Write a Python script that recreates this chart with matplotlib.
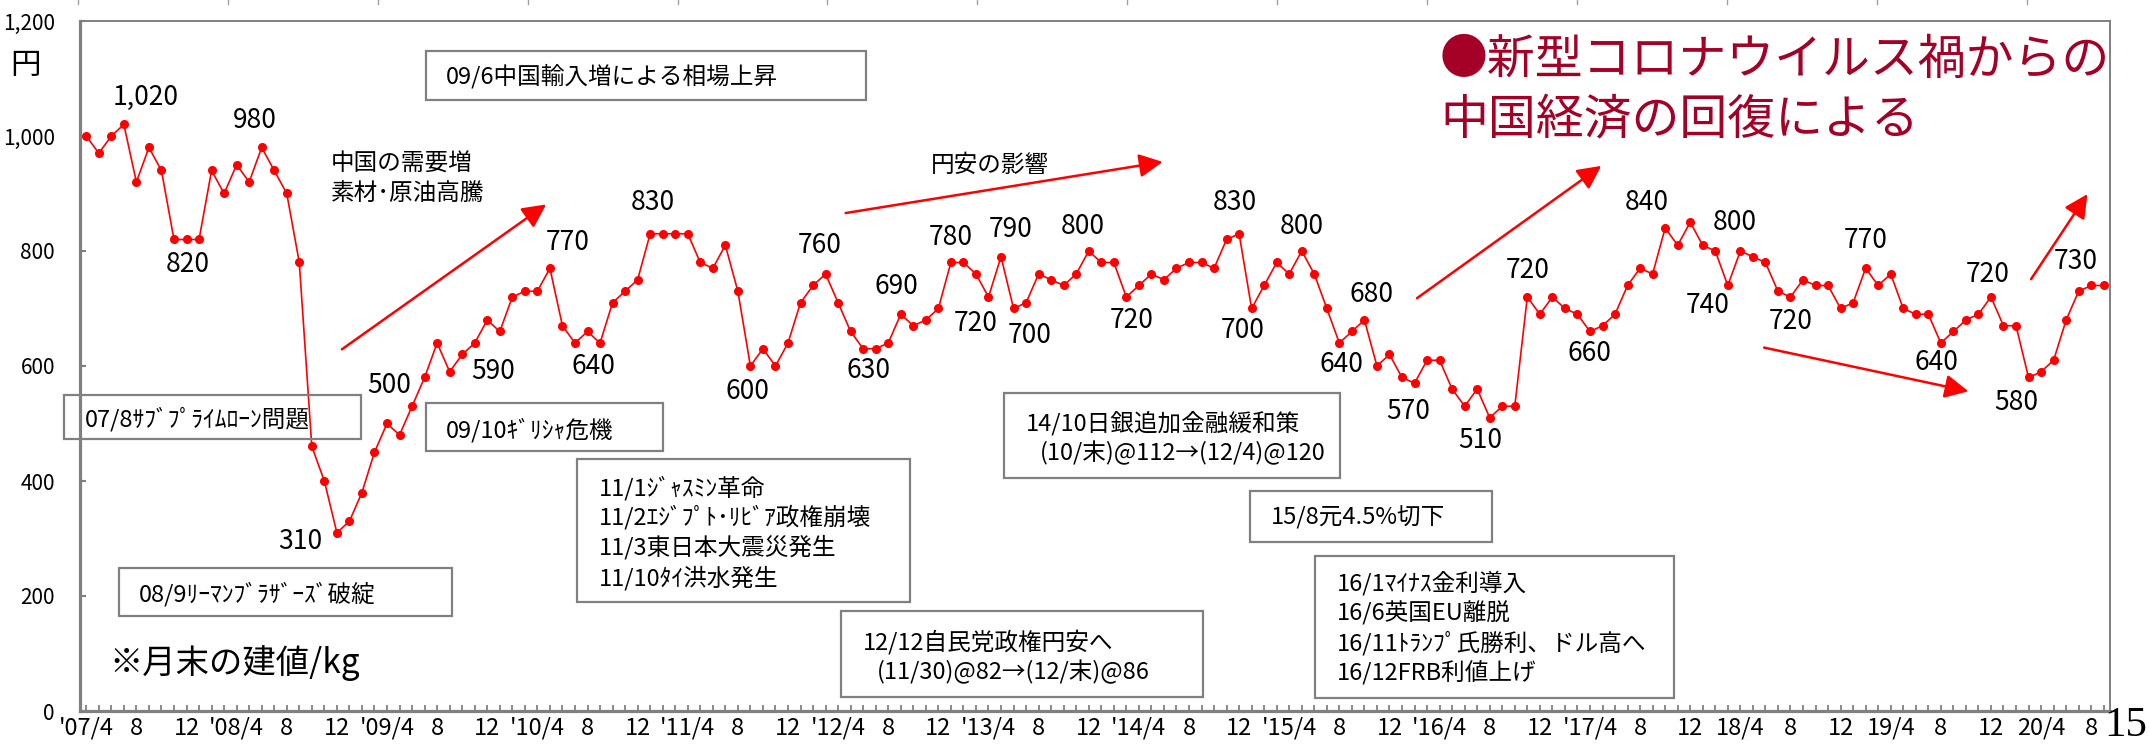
import matplotlib
matplotlib.use('Agg')
import matplotlib.pyplot as plt
from matplotlib.patches import Rectangle
from matplotlib.lines import Line2D
import numpy as np

plt.rcParams['font.family'] = ['Noto Sans CJK JP', 'DejaVu Sans']

# ---------------- data ----------------
# monthly price (yen/kg), 2007/4 .. 2020/9
prices = [1000, 970, 1000, 1020, 920, 980, 940, 820, 820, 820, 940, 900, 950, 920, 980, 940, 900, 780,
          460, 400, 310, 330, 380, 450, 500, 480, 530, 580, 640, 590, 620, 640, 680, 660, 720, 730, 730, 770,
          670, 640, 660, 640, 710, 730, 750, 830, 830, 830, 830, 780, 770, 810, 730, 600, 630, 600, 640, 710, 740, 760,
          710, 660, 630, 630, 640, 690, 670, 680, 700, 780, 780, 760, 720, 790, 700, 710, 760, 750, 740, 760, 800,
          780, 780, 720, 740, 760, 750, 770, 780, 780, 770, 820, 830, 700, 740, 780, 760, 800, 760, 700, 640, 660, 680, 600, 620,
          580, 570, 610, 610, 560, 530, 560, 510, 530, 530, 720, 690, 720, 700, 690, 660, 670, 690, 740, 770,
          760, 840, 810, 850, 810, 800, 740, 800, 790, 780, 730, 720, 750, 740, 740, 700, 710, 770, 740, 760,
          700, 690, 690, 640, 660, 680, 690, 720, 670, 670, 580, 590, 610, 680, 730, 740, 740]

xtick_labels = []
for yy in range(7, 21):
    yl = f"'{yy:02d}/4" if yy <= 17 else f"{yy}/4"
    xtick_labels += [yl, "8", "12"]
xtick_labels = xtick_labels[:-1]  # ends at 20/4, 8

yticks = [0, 200, 400, 600, 800, 1000, 1200]

# indices of labelled points
label_idx = [3, 14, 9, 20, 24, 29, 37, 39, 45, 53, 59, 63, 65, 69, 72, 73, 74, 80, 83,
             92, 93, 97, 100, 102, 106, 112, 115, 120, 126, 131, 132, 136, 142, 148, 152, 155, 159]

# ---------------- layout ----------------
W, H, DPI = 2149, 752, 100
label_off = [(22, 27), (-7, 27), (-11, -25), (-37, -9), (2, 38), (43, 0), (18, 26), (18, -24),
             (3, 31), (-3, -26), (-6, 28), (-7, -22), (-4, 28), (0, 25), (-13, -27), (10, 27),
             (16, -27), (-6, 25), (5, -24), (-4, 31), (-9, -22), (0, 25), (2, -22), (7, 25),
             (-6, -28), (-9, -23), (0, 26), (-1, -22), (-18, 25), (-20, -20), (-6, 28), (0, -25),
             (0, 28), (-4, -20), (-3, 22), (-12, -25), (-3, 30)]

# arrows in data coordinates: (start_idx, start_val, tip_idx, tip_val)
arrows = [(20.4, 629, 36.7, 881), (60.6, 866, 85.9, 955), (106.2, 718, 120.9, 948),
          (133.9, 632, 150.2, 556), (155.2, 751, 159.7, 899)]

# boxes in figure pixels (x0, y0, x1, y1) from top-left
boxes = [(426, 51, 866, 100), (64, 395, 361, 439), (426, 403, 663, 451), (119, 568, 452, 616),
         (577, 459, 910, 602), (841, 611, 1203, 697), (1004, 393, 1340, 478), (1250, 491, 1492, 542),
         (1315, 556, 1674, 698)]

# texts: (x, y, text, size)
texts = [(446, 76, "09/6中国輸入増による相場上昇", 17),
         (85, 419, "07/8ｻﾌﾞﾌﾟﾗｲﾑﾛｰﾝ問題", 17),
         (446, 430, "09/10ｷﾞﾘｼｬ危機", 17),
         (139, 594, "08/9ﾘｰﾏﾝﾌﾞﾗｻﾞｰｽﾞ破綻", 17),
         (599, 488, "11/1ｼﾞｬｽﾐﾝ革命", 17),
         (599, 517, "11/2ｴｼﾞﾌﾟﾄ･ﾘﾋﾞｱ政権崩壊", 17),
         (599, 547, "11/3東日本大震災発生", 17),
         (599, 578, "11/10ﾀｲ洪水発生", 17),
         (863, 642, "12/12自民党政権円安へ", 17),
         (877, 672, "(11/30)@82→(12/末)@86", 17),
         (1026, 423, "14/10日銀追加金融緩和策", 17),
         (1040, 453, "(10/末)@112→(12/4)@120", 17),
         (1271, 518, "15/8元4.5%切下", 17),
         (1337, 583, "16/1ﾏｲﾅｽ金利導入", 17),
         (1337, 613, "16/6英国EU離脱", 17),
         (1337, 643, "16/11ﾄﾗﾝﾌﾟ氏勝利、ドル高へ", 17),
         (1337, 673, "16/12FRB利値上げ", 17),
         (331, 163, "中国の需要増", 17),
         (331, 193, "素材･原油高騰", 17),
         (931, 165, "円安の影響", 17),
         (10, 65, "円", 22),
         (109, 663, "※月末の建値/kg", 24)]

red_texts = [(1440, 60, "●新型コロナウイルス禍からの"), (1440, 121, "中国経済の回復による")]

# ---------------- drawing ----------------
def fx(x):
    return x / W

def fy(y):
    return 1 - y / H

fig = plt.figure(figsize=(W / DPI, H / DPI), dpi=DPI)
fig.patch.set_facecolor('white')
ax = fig.add_axes([fx(80), fy(711), (2110 - 80) / W, (711 - 21) / H])

x = np.arange(len(prices))
ax.plot(x, prices, color='#FF0000', lw=1.2, marker='o', ms=5.5, mfc='#FF0000', mec='#FF0000',
        zorder=5, clip_on=False)
ax.set_xlim(-0.5, len(prices) - 0.5)
ax.set_ylim(0, 1200)

gray = '#808080'
for side in ['left', 'bottom']:
    ax.spines[side].set_linewidth(2.3)
    ax.spines[side].set_color(gray)
for side in ['top', 'right']:
    ax.spines[side].set_linewidth(1.4)
    ax.spines[side].set_color(gray)

ax.set_yticks(yticks)
ax.set_yticklabels([f"{v:,}" for v in yticks], fontsize=15)
ax.tick_params(axis='y', direction='in', length=4, width=1.5, color=gray, pad=18)

ax.set_xticks(np.arange(0, len(prices), 4))
ax.set_xticklabels(xtick_labels, fontsize=17)
ax.set_xticks(np.arange(0, len(prices), 1), minor=True)
ax.tick_params(axis='x', which='both', direction='in', length=4, width=1.3, color=gray, pad=4)

for i, (dx, dy) in zip(label_idx, label_off):
    ax.annotate(f"{prices[i]:,}", (i, prices[i]), xytext=(dx, dy), textcoords='offset pixels',
                ha='center', va='center', fontsize=19, zorder=6)

for (x0, y0, x1, y1) in arrows:
    ax.annotate('', xy=(x1, y1), xytext=(x0, y0),
                arrowprops=dict(arrowstyle='-|>,head_length=1.1,head_width=0.55', color='#FF0000',
                                lw=1.8, mutation_scale=13, shrinkA=0, shrinkB=0),
                annotation_clip=False, zorder=4)

for (x0, y0, x1, y1) in boxes:
    fig.add_artist(Rectangle((fx(x0), fy(y1)), (x1 - x0) / W, (y1 - y0) / H,
                             transform=fig.transFigure, fill=False, ec=gray, lw=1.6, zorder=3))

for (tx, ty, s, size) in texts:
    fig.text(fx(tx), fy(ty), s, ha='left', va='center', fontsize=size, color='black')

for (tx, ty, s) in red_texts:
    fig.text(fx(tx), fy(ty), s, ha='left', va='center', fontsize=34.5, color='#A50026')

fig.text(fx(2147), fy(726), "15", ha='right', va='center', fontsize=31,
         family=['Liberation Serif', 'DejaVu Serif'], color='black')

# faint tick residue at the very top edge
for k in range(14):
    xx = 78 + k * 149.9
    fig.add_artist(Line2D([fx(xx), fx(xx)], [fy(0), fy(4)], transform=fig.transFigure,
                          color='#A0A0A0', lw=1))

fig.savefig('out.png', dpi=DPI)
